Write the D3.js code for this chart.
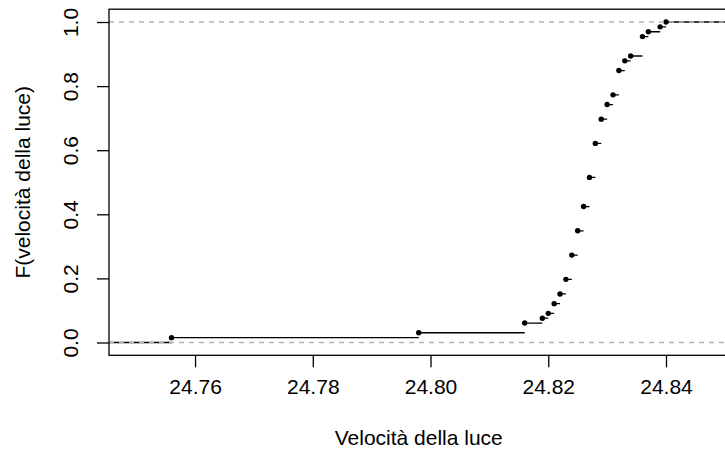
<!DOCTYPE html>
<html>
<head>
<meta charset="utf-8">
<script src="https://cdn.jsdelivr.net/npm/d3@7"></script>
<style>
  body { margin: 0; background: #fff; }
  svg text { font-family: "Liberation Sans", Arial, Helvetica, sans-serif; fill: #000; }
</style>
</head>
<body>
<div id="chart"></div>
<script>
// Newcomb: velocita' della luce (valori distinti) e quante volte compaiono
var velocita = [24.756, 24.798, 24.816, 24.819, 24.820, 24.821, 24.822, 24.823,
	24.824, 24.825, 24.826, 24.827, 24.828, 24.829, 24.830, 24.831, 24.832,
	24.833, 24.834, 24.836, 24.837, 24.839, 24.840];
var conteggi = [1, 1, 2, 1, 1, 2, 2, 3, 5, 5, 5, 6, 7, 5, 3, 2, 5, 2, 1, 4, 1, 1, 1];

var xTicks = [24.76, 24.78, 24.80, 24.82, 24.84];
var yTicks = [0, 0.2, 0.4, 0.6, 0.8, 1.0];

var xLabel = "Velocità della luce";
var yLabel = "F(velocità della luce)";

function plot() {
	var width = 725, height = 456;
	var left = 109, right = 728.5, top = 9.2, bottom = 355.3;
	var fs = "21px";

	var n = d3.sum(conteggi);
	var cum = d3.cumsum(conteggi);
	var punti = velocita.map(function(v, i) { return {x: v, y: cum[i] / n}; });

	// limiti come in plot.stepfun: estensione dr poi 4%
	var rx = d3.extent(velocita);
	var diffs = d3.pairs(velocita, function(a, b) { return b - a; });
	var dr = Math.max(0.08 * (rx[1] - rx[0]), d3.median(diffs));
	var xlim = [rx[0] - dr, rx[1] + dr];
	var ext = 0.04 * (xlim[1] - xlim[0]);

	var x = d3.scaleLinear()
	.domain([xlim[0] - ext, xlim[1] + ext])
	.range([left, right]);

	var y = d3.scaleLinear()
	.domain([-0.04, 1.04])
	.range([bottom, top]);

	var svg = d3.select("#chart").append("svg")
	.attr("width", width)
	.attr("height", height);

	svg.append("clipPath").attr("id", "clip")
	.append("rect")
	.attr("x", left).attr("y", top)
	.attr("width", right - left).attr("height", bottom - top);

	var area = svg.append("g").attr("clip-path", "url(#clip)");

	// gradini orizzontali
	var segs = [{x1: x.domain()[0], x2: velocita[0], y: 0}];
	punti.forEach(function(p, i) {
		var next = i < punti.length - 1 ? punti[i + 1].x : x.domain()[1];
		segs.push({x1: p.x, x2: next, y: p.y});
	});

	area.selectAll(".seg")
	.data(segs)
	.enter().append("line")
	.attr("class", "seg")
	.attr("x1", function(d) { return x(d.x1); })
	.attr("x2", function(d) { return x(d.x2); })
	.attr("y1", function(d) { return y(d.y); })
	.attr("y2", function(d) { return y(d.y); })
	.attr("stroke", "#000")
	.attr("stroke-width", 1.3);

	area.selectAll(".pt")
	.data(punti)
	.enter().append("circle")
	.attr("class", "pt")
	.attr("cx", function(d) { return x(d.x); })
	.attr("cy", function(d) { return y(d.y); })
	.attr("r", 2.7)
	.attr("fill", "#000");

	// linee a 0 e 1
	area.selectAll(".hline")
	.data([0, 1])
	.enter().append("line")
	.attr("class", "hline")
	.attr("x1", left).attr("x2", right)
	.attr("y1", function(d) { return y(d); })
	.attr("y2", function(d) { return y(d); })
	.attr("stroke", "#b3b3b3")
	.attr("stroke-width", 1.3)
	.attr("stroke-dasharray", "5,5");

	// asse x
	var gx = svg.append("g")
	.attr("transform", "translate(0," + bottom + ")")
	.call(d3.axisBottom(x).tickValues(xTicks).tickSize(12).tickFormat(d3.format(".2f")));
	gx.select(".domain").remove();
	gx.selectAll(".tick line").attr("stroke", "#000").attr("stroke-width", 1.3);
	gx.selectAll(".tick text")
	.attr("y", 31)
	.attr("dy", null)
	.attr("dominant-baseline", "central")
	.style("font-size", fs);

	// asse y
	var gy = svg.append("g")
	.attr("transform", "translate(" + left + ",0)")
	.call(d3.axisLeft(y).tickValues(yTicks).tickSize(12).tickFormat(d3.format(".1f")));
	gy.select(".domain").remove();
	gy.selectAll(".tick line").attr("stroke", "#000").attr("stroke-width", 1.3);
	gy.selectAll(".tick text")
	.attr("x", 0)
	.attr("y", -39)
	.attr("dy", null)
	.attr("transform", "rotate(-90)")
	.attr("text-anchor", "middle")
	.attr("dominant-baseline", "central")
	.style("font-size", fs);

	// riquadro
	svg.append("rect")
	.attr("x", left).attr("y", top)
	.attr("width", right - left).attr("height", bottom - top)
	.attr("fill", "none")
	.attr("stroke", "#000")
	.attr("stroke-width", 1.3);

	svg.append("text")
	.attr("x", (left + right) / 2)
	.attr("y", 437)
	.attr("text-anchor", "middle")
	.attr("dominant-baseline", "central")
	.style("font-size", fs)
	.text(xLabel);

	svg.append("text")
	.attr("transform", "translate(22," + ((top + bottom) / 2) + ") rotate(-90)")
	.attr("text-anchor", "middle")
	.attr("dominant-baseline", "central")
	.style("font-size", fs)
	.text(yLabel);
}

document.addEventListener("DOMContentLoaded", function() {
	plot();
});
</script>
</body>
</html>
